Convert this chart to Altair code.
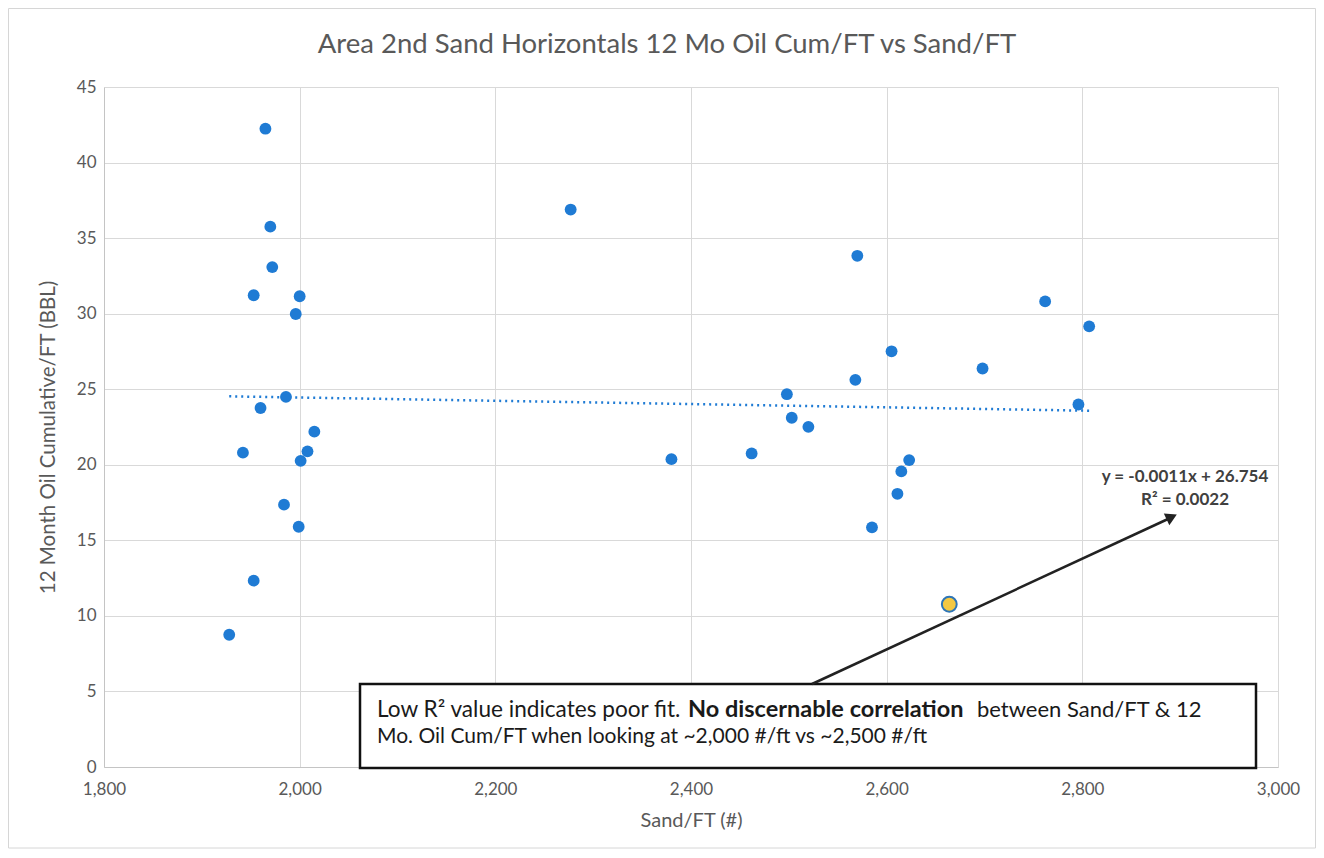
import altair as alt
import pandas as pd

# ---- data ----
sand_ft = [1928, 1953, 1942, 1960, 1986, 1984, 1999, 2001, 2008, 2015,
           1953, 2000, 1996, 1972, 1970, 1965,
           2277, 2380, 2462, 2498, 2503, 2520, 2570, 2568, 2605, 2585,
           2611, 2615, 2623, 2698, 2762, 2807, 2796, 2664]
oil_cum_ft = [8.75, 12.33, 20.8, 23.76, 24.49, 17.36, 15.9, 20.26, 20.89, 22.19,
              31.22, 31.15, 29.98, 33.08, 35.76, 42.24,
              36.89, 20.37, 20.75, 24.67, 23.11, 22.51, 33.83, 25.62, 27.51, 15.86,
              18.08, 19.56, 20.31, 26.37, 30.81, 29.16, 23.99, 10.77]
highlighted = [False] * 33 + [True]

x_ticks = [1800, 2000, 2200, 2400, 2600, 2800, 3000]
y_ticks = [0, 5, 10, 15, 20, 25, 30, 35, 40, 45]

title_text = "Area 2nd Sand Horizontals 12 Mo Oil Cum/FT vs Sand/FT"
x_title = "Sand/FT (#)"
y_title = "12 Month Oil Cumulative/FT (BBL)"
eq_text = "y = -0.0011x + 26.754"
r2_text = "R² = 0.0022"
note_1a = "Low R² value indicates poor fit."
note_1b = "No discernable correlation"
note_1c = "between Sand/FT & 12"
note_2 = "Mo. Oil Cum/FT when looking at ~2,000 #/ft vs ~2,500 #/ft"

df = pd.DataFrame({"sand": sand_ft, "oil": oil_cum_ft, "hl": highlighted})
one = pd.DataFrame({"k": [0]})

FONT = "Lato"
BLUE = "#1f7bd4"
GREY = "#595959"

xs = alt.Scale(domain=[1800, 3000], nice=False, zero=False)
ys = alt.Scale(domain=[0, 45], nice=False)

x_enc = alt.X("sand:Q", scale=xs,
              axis=alt.Axis(values=x_ticks, format=",.0f", title=x_title,
                            labelFontSize=17, titleFontSize=20, labelPadding=14,
                            titlePadding=13, ticks=False, tickSize=0,
                            labelFlush=False))
y_enc = alt.Y("oil:Q", scale=ys,
              axis=alt.Axis(values=y_ticks, format=".0f", title=y_title,
                            labelFontSize=17, titleFontSize=20.5, labelPadding=8,
                            titlePadding=18, ticks=False, tickSize=0,
                            labelFlush=False, titleY=350))

base = alt.Chart(df)

border = alt.Chart(one).mark_rect(fillOpacity=0, stroke="#d6d6d6", strokeWidth=1).encode(
    x=alt.value(-95.5), x2=alt.value(1211.5), y=alt.value(-78.5), y2=alt.value(761))

trend = base.transform_regression("sand", "oil").mark_line(
    color=BLUE, strokeDash=[2, 4], strokeWidth=2.5).encode(x=x_enc, y=y_enc)

pts = base.transform_filter("!datum.hl").mark_circle(
    size=140, color=BLUE, opacity=1).encode(x=x_enc, y=y_enc)

yellow = base.transform_filter("datum.hl").mark_point(
    filled=True, fill="#f4c842", stroke="#2e75b6", strokeWidth=2, size=220,
    opacity=1).encode(x=x_enc, y=y_enc)

box = alt.Chart(one).mark_rect(fill="white", stroke="#111111", strokeWidth=2.5).encode(
    x=alt.value(256), x2=alt.value(1152), y=alt.value(597), y2=alt.value(681))

arrow = alt.Chart(one).mark_rule(color="#222222", strokeWidth=2.5).encode(
    x=alt.value(708), y=alt.value(597), x2=alt.value(1064), y2=alt.value(432))

head = alt.Chart(one).mark_point(shape="triangle-up", filled=True, color="#222222",
                                 size=170, angle=65, opacity=1).encode(
    x=alt.value(1067.7), y=alt.value(429.9))


def txt(s, x, y, size, weight="normal", color="#1a1a1a", align="left"):
    return alt.Chart(one).mark_text(align=align, baseline="middle", font=FONT,
                                    fontSize=size, fontWeight=weight, color=color).encode(
        x=alt.value(x), y=alt.value(y), text=alt.value(s))


texts = [
    txt(title_text, 563, -42, 27.5, "normal", GREY, "center"),
    txt(note_1a, 273, 623, 22.6),
    txt(note_1b, 584, 623, 23.5, "bold"),
    txt(note_1c, 873, 623, 22),
    txt(note_2, 273, 650, 21),
    txt(eq_text, 1081, 390, 17, "bold", "#404040", "center"),
    txt(r2_text, 1081, 413, 17, "bold", "#404040", "center"),
]

chart = alt.layer(border, trend, pts, yellow, box, arrow, head, *texts).properties(
    width=1174, height=680,
    autosize=alt.AutoSizeParams(type="none"),
    padding={"left": 96, "top": 79, "right": 38, "bottom": 82},
).configure_view(stroke=None).configure_axis(
    gridColor="#d9d9d9", domainColor="#c4c4c4", labelColor=GREY, titleColor=GREY,
    labelFont=FONT, titleFont=FONT, titleFontWeight="normal")

chart.save("out.html", embed_options={"renderer": "svg", "actions": False})
